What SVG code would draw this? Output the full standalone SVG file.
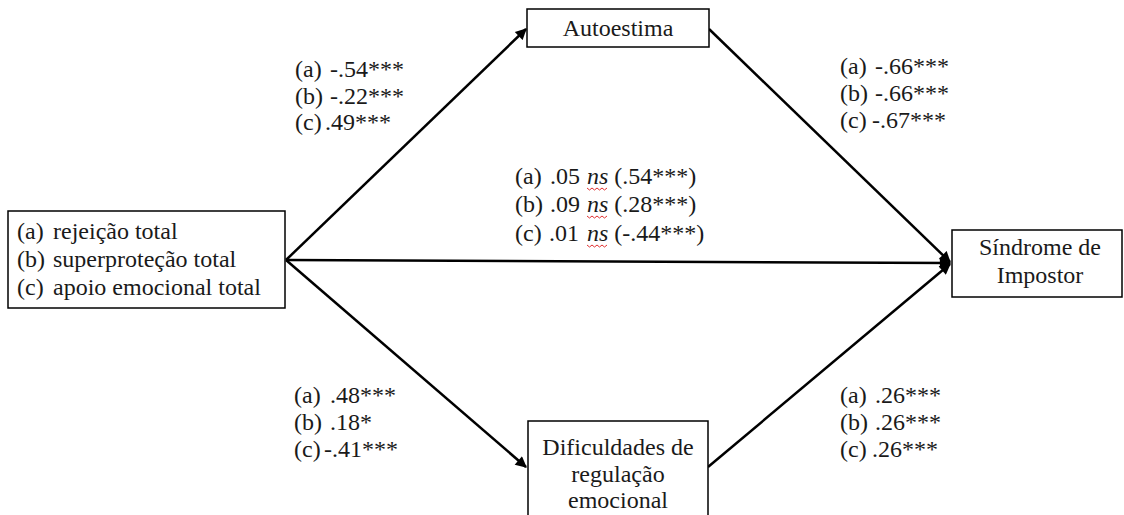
<svg xmlns="http://www.w3.org/2000/svg" width="1124" height="515" viewBox="0 0 1124 515">
<defs>
<style>
.box{fill:#fff;stroke:#000;stroke-width:1.5}
.t{font-family:"Liberation Serif","Times New Roman",serif;font-size:24px;fill:#1a1a1a}
.c{stroke:#000;stroke-width:2.5;fill:none}
.w{stroke:#e03030;stroke-width:1;fill:none}
</style>
<marker id="ah" viewBox="0 0 10 10" refX="9" refY="5" markerWidth="5" markerHeight="4.5" orient="auto" markerUnits="strokeWidth">
<path d="M0,0 L10,5 L0,10 z" fill="#000"/>
</marker>
</defs>
<rect width="1124" height="515" fill="#fff"/>
<g id="connectors">
<line class="c" x1="286" y1="260" x2="526" y2="29" marker-end="url(#ah)"/>
<line class="c" x1="709" y1="29" x2="950" y2="262" marker-end="url(#ah)"/>
<line class="c" x1="286" y1="260" x2="950" y2="263" marker-end="url(#ah)"/>
<line class="c" x1="286" y1="260" x2="526" y2="467" marker-end="url(#ah)"/>
<line class="c" x1="708" y1="467" x2="950" y2="264" marker-end="url(#ah)"/>
</g>
<g id="node-parental">
<rect class="box" x="8" y="211" width="277" height="97"/>
<text class="t" y="239"><tspan x="17">(a)</tspan><tspan x="53">rejeição total</tspan></text>
<text class="t" y="267"><tspan x="17">(b)</tspan><tspan x="53">superproteção total</tspan></text>
<text class="t" y="295"><tspan x="17">(c)</tspan><tspan x="53">apoio emocional total</tspan></text>
</g>
<g id="node-autoestima">
<rect class="box" x="527" y="9" width="182" height="38"/>
<text class="t" x="618" y="36" text-anchor="middle">Autoestima</text>
</g>
<g id="node-sindrome">
<rect class="box" x="952" y="230" width="170" height="67"/>
<text class="t" x="1040" y="255" text-anchor="middle">Síndrome de</text>
<text class="t" x="1040" y="283" text-anchor="middle">Impostor</text>
</g>
<g id="node-dificuldades">
<path class="box" d="M528,516 L528,421 L708,421 L708,516"/>
<text class="t" x="618" y="455" text-anchor="middle">Dificuldades de</text>
<text class="t" x="618" y="482" text-anchor="middle">regulação</text>
<text class="t" x="618" y="508" text-anchor="middle">emocional</text>
</g>
<g id="labels">
<text class="t" y="77"><tspan x="295">(a)</tspan><tspan x="330">-.54***</tspan></text>
<text class="t" y="104"><tspan x="295">(b)</tspan><tspan x="330">-.22***</tspan></text>
<text class="t" y="130"><tspan x="295">(c)</tspan><tspan x="325">.49***</tspan></text>
<text class="t" y="74"><tspan x="840">(a)</tspan><tspan x="875">-.66***</tspan></text>
<text class="t" y="101"><tspan x="840">(b)</tspan><tspan x="875">-.66***</tspan></text>
<text class="t" y="128"><tspan x="840">(c)</tspan><tspan x="872">-.67***</tspan></text>
<text class="t" y="184"><tspan x="515">(a)</tspan><tspan x="550">.05</tspan><tspan x="587" font-style="italic">ns</tspan> (.54***)</text>
<text class="t" y="212"><tspan x="515">(b)</tspan><tspan x="550">.09</tspan><tspan x="587" font-style="italic">ns</tspan> (.28***)</text>
<text class="t" y="241"><tspan x="515">(c)</tspan><tspan x="549">.01</tspan><tspan x="587" font-style="italic">ns</tspan> (-.44***)</text>
<path class="w" d="M587,188 l2.5,2 l2.5,-2 l2.5,2 l2.5,-2 l2.5,2 l2.5,-2 l2.5,2 l2.5,-2"/>
<path class="w" d="M587,216 l2.5,2 l2.5,-2 l2.5,2 l2.5,-2 l2.5,2 l2.5,-2 l2.5,2 l2.5,-2"/>
<path class="w" d="M587,245 l2.5,2 l2.5,-2 l2.5,2 l2.5,-2 l2.5,2 l2.5,-2 l2.5,2 l2.5,-2"/>
<text class="t" y="403"><tspan x="294">(a)</tspan><tspan x="330">.48***</tspan></text>
<text class="t" y="430"><tspan x="294">(b)</tspan><tspan x="330">.18*</tspan></text>
<text class="t" y="457"><tspan x="294">(c)</tspan><tspan x="324">-.41***</tspan></text>
<text class="t" y="403"><tspan x="840">(a)</tspan><tspan x="875">.26***</tspan></text>
<text class="t" y="430"><tspan x="840">(b)</tspan><tspan x="875">.26***</tspan></text>
<text class="t" y="457"><tspan x="840">(c)</tspan><tspan x="872">.26***</tspan></text>
</g>
</svg>
